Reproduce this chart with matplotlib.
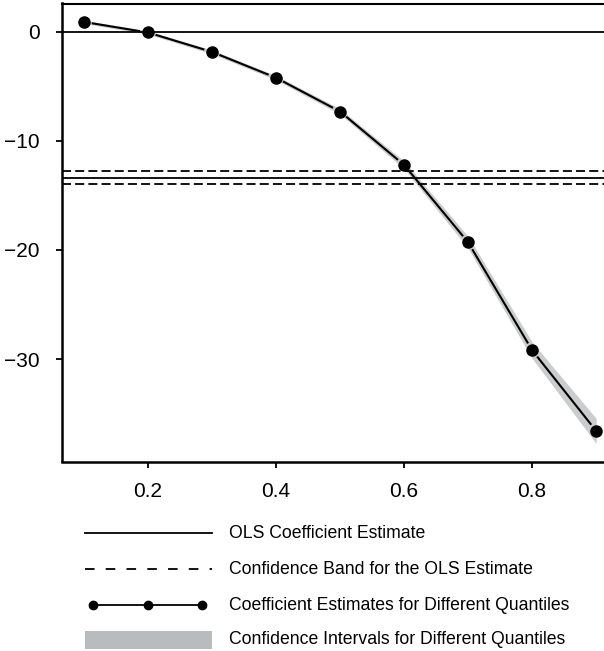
import numpy as np
import matplotlib
matplotlib.use('Agg')
from matplotlib import pyplot as plt
from matplotlib.patches import Rectangle

plt.rcParams['font.family'] = ['Liberation Sans Narrow', 'Liberation Sans', 'DejaVu Sans']

# quantile regression results
quantiles = [0.1, 0.2, 0.3, 0.4, 0.5, 0.6, 0.7, 0.8, 0.9]
coef = [0.92, -0.05, -1.83, -4.2, -7.3, -12.2, -19.3, -29.2, -36.6]
ci_half = [0.15, 0.15, 0.18, 0.2, 0.25, 0.35, 0.55, 0.75, 1.15]
ols_est = -13.37
ols_low = -13.97
ols_high = -12.75

legend_labels = ['OLS Coefficient Estimate',
                 'Confidence Band for the OLS Estimate',
                 'Coefficient Estimates for Different Quantiles',
                 'Confidence Intervals for Different Quantiles']

W, H = 604, 651
fig = plt.figure(figsize=(W / 100, H / 100), dpi=100)
ax = fig.add_axes([62 / W, (H - 461.5) / H, (W - 62) / W + 0.01, (461.5 - 3.5) / H])
ax.set_xlim(0.0658, 0.9216)
ax.set_ylim(-39.4, 2.61)

q = np.array(quantiles)
c = np.array(coef)
h = np.array(ci_half)
band_color = '#cbcccd'
ax.fill_between(q, c - h, c + h, color=band_color, lw=0, zorder=1)

dash = (0, (5, 2.3))
ax.axhline(0, color='black', lw=1.3, zorder=2)
ax.axhline(ols_est, color='black', lw=1.3, zorder=2)
ax.axhline(ols_low, color='black', lw=1.3, ls=dash, zorder=2)
ax.axhline(ols_high, color='black', lw=1.3, ls=dash, zorder=2)

# R style type="b": segments stop short of the points
pts = ax.transData.transform(np.column_stack([q, c]))
gap = 9.0
for i in range(len(pts) - 1):
    p0, p1 = pts[i], pts[i + 1]
    d = p1 - p0
    u = d / np.hypot(*d)
    a = ax.transData.inverted().transform([p0 + u * gap, p1 - u * gap])
    ax.plot(a[:, 0], a[:, 1], color='black', lw=1.5, zorder=3)
ax.plot(q, c, 'o', color='black', ms=8, zorder=4)

ax.set_xticks([0.2, 0.4, 0.6, 0.8])
ax.set_xticklabels(['0.2', '0.4', '0.6', '0.8'])
ax.set_yticks([0, -10, -20, -30])
ax.set_yticklabels(['0', '\u221210', '\u221220', '\u221230'])
ax.tick_params(axis='both', direction='out', length=4.5, width=1.3, labelsize=15)
ax.tick_params(axis='x', pad=10)
ax.tick_params(axis='y', pad=11.5)
ax.spines['right'].set_visible(False)
for s in ['left', 'bottom']:
    ax.spines[s].set_linewidth(1.8)
ax.spines['top'].set_linewidth(1.5)

# legend drawn in its own pixel-space axes
lg = fig.add_axes([0, 0, 1, 130 / H])
lg.set_xlim(0, W)
lg.set_ylim(H, H - 130)
lg.axis('off')
rows = [533, 569, 605, 640]
x0, x1, tx = 85, 212, 229
lg.plot([x0, x1], [rows[0], rows[0]], color='black', lw=1.3)
lg.plot([x0, x1], [rows[1], rows[1]], color='black', lw=1.3, ls=(0, (5.3, 6.2)))
lg.plot([93, 202], [rows[2], rows[2]], color='black', lw=1.3)
lg.plot([93, 147.5, 202], [rows[2]] * 3, 'o', color='black', ms=6)
lg.add_patch(Rectangle((x0, rows[3] - 9), x1 - x0, 18, color='#b9bcbe', lw=0))
for r, lab in zip(rows, legend_labels):
    lg.text(tx, r, lab, fontsize=12.7, va='center', ha='left')

fig.savefig('out.png', dpi=100)
